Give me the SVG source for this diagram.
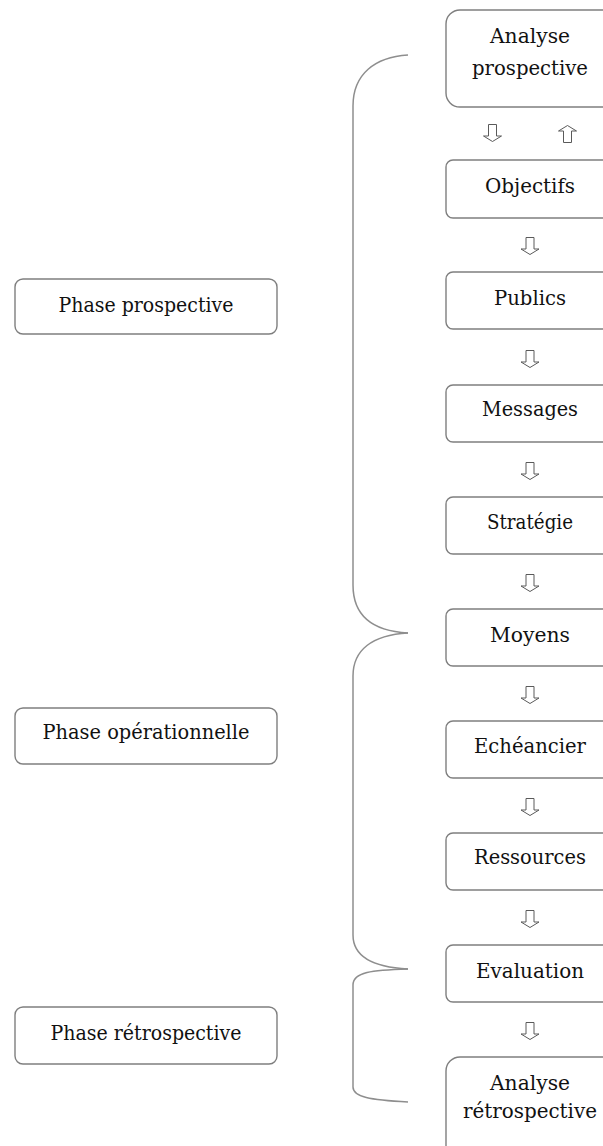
<svg xmlns="http://www.w3.org/2000/svg" width="603" height="1146" viewBox="0 0 603 1146">
  <defs>
    <style>
      .box { fill: #ffffff; stroke: #7f7f7f; stroke-width: 1.4; }
      .lbl { font-family: "DejaVu Serif", "Liberation Serif", serif; font-size: 20px; fill: #111111; text-anchor: middle; }
      .brace { fill: none; stroke: #8e8e8e; stroke-width: 1.5; }
      .arr { fill: #ffffff; stroke: #5a5a5a; stroke-width: 1; stroke-linejoin: round; }
    </style>
    <!-- hollow block arrow pointing down, centred on (0,0) -->
    <path id="downArrow" d="M -4 -8.5 L 4 -8.5 L 4 3 L 9 3 L 0 8.5 L -9 3 L -4 3 Z"/>
    <path id="upArrow" d="M -4 8.5 L 4 8.5 L 4 -3 L 9 -3 L 0 -8.5 L -9 -3 L -4 -3 Z"/>
  </defs>
  <rect width="603" height="1146" fill="#ffffff"/>

  <!-- phase labels -->
  <g id="phase-prospective">
    <rect class="box" x="15" y="279" width="262" height="55" rx="8"/>
    <text class="lbl" x="146" y="312" textLength="175" lengthAdjust="spacingAndGlyphs">Phase prospective</text>
  </g>
  <g id="phase-operationnelle">
    <rect class="box" x="15" y="708" width="262" height="56" rx="8"/>
    <text class="lbl" x="146" y="739" textLength="207" lengthAdjust="spacingAndGlyphs">Phase opérationnelle</text>
  </g>
  <g id="phase-retrospective">
    <rect class="box" x="15" y="1007" width="262" height="57" rx="8"/>
    <text class="lbl" x="146" y="1040" textLength="191" lengthAdjust="spacingAndGlyphs">Phase rétrospective</text>
  </g>

  <!-- process steps -->
  <g id="analyse-prospective">
    <rect class="box" x="446" y="10" width="170" height="97" rx="14"/>
    <text class="lbl" x="530" y="43" textLength="80" lengthAdjust="spacingAndGlyphs">Analyse</text>
    <text class="lbl" x="530" y="75" textLength="116" lengthAdjust="spacingAndGlyphs">prospective</text>
  </g>
  <g id="objectifs">
    <rect class="box" x="446" y="160" width="170" height="58" rx="7"/>
    <text class="lbl" x="530" y="193" textLength="90" lengthAdjust="spacingAndGlyphs">Objectifs</text>
  </g>
  <g id="publics">
    <rect class="box" x="446" y="272" width="170" height="57" rx="7"/>
    <text class="lbl" x="530" y="305" textLength="72" lengthAdjust="spacingAndGlyphs">Publics</text>
  </g>
  <g id="messages">
    <rect class="box" x="446" y="385" width="170" height="57" rx="7"/>
    <text class="lbl" x="530" y="416" textLength="96" lengthAdjust="spacingAndGlyphs">Messages</text>
  </g>
  <g id="strategie">
    <rect class="box" x="446" y="497" width="170" height="57" rx="7"/>
    <text class="lbl" x="530" y="529" textLength="86" lengthAdjust="spacingAndGlyphs">Stratégie</text>
  </g>
  <g id="moyens">
    <rect class="box" x="446" y="609" width="170" height="57" rx="7"/>
    <text class="lbl" x="530" y="642" textLength="80" lengthAdjust="spacingAndGlyphs">Moyens</text>
  </g>
  <g id="echeancier">
    <rect class="box" x="446" y="721" width="170" height="57" rx="7"/>
    <text class="lbl" x="530" y="753" textLength="112" lengthAdjust="spacingAndGlyphs">Echéancier</text>
  </g>
  <g id="ressources">
    <rect class="box" x="446" y="833" width="170" height="57" rx="7"/>
    <text class="lbl" x="530" y="864" textLength="112" lengthAdjust="spacingAndGlyphs">Ressources</text>
  </g>
  <g id="evaluation">
    <rect class="box" x="446" y="945" width="170" height="57" rx="7"/>
    <text class="lbl" x="530" y="978" textLength="108" lengthAdjust="spacingAndGlyphs">Evaluation</text>
  </g>
  <g id="analyse-retrospective">
    <rect class="box" x="446" y="1057" width="170" height="110" rx="14"/>
    <text class="lbl" x="530" y="1090" textLength="80" lengthAdjust="spacingAndGlyphs">Analyse</text>
    <text class="lbl" x="530" y="1118" textLength="134" lengthAdjust="spacingAndGlyphs">rétrospective</text>
  </g>

  <!-- connectors: braces grouping the steps, and the step arrows -->
  <g id="connectors">
    <path class="brace" d="M 408 55 C 375 57, 353 74, 353 106 L 353 585 C 353 615, 372 631, 408 633"/>
    <path class="brace" d="M 408 633 C 372 635, 353 650, 353 676 L 353 935 C 353 955, 370 967, 408 969"/>
    <path class="brace" d="M 408 969 C 372 970, 353 972, 353 985 L 353 1087 C 353 1097, 370 1100, 408 1102"/>

    <use href="#downArrow" class="arr" x="492.5" y="133"/>
    <use href="#upArrow" class="arr" x="567.5" y="134"/>
    <use href="#downArrow" class="arr" x="530" y="246"/>
    <use href="#downArrow" class="arr" x="530" y="359"/>
    <use href="#downArrow" class="arr" x="530" y="471"/>
    <use href="#downArrow" class="arr" x="530" y="583"/>
    <use href="#downArrow" class="arr" x="530" y="695"/>
    <use href="#downArrow" class="arr" x="530" y="807"/>
    <use href="#downArrow" class="arr" x="530" y="919"/>
    <use href="#downArrow" class="arr" x="530" y="1031"/>
  </g>
</svg>
